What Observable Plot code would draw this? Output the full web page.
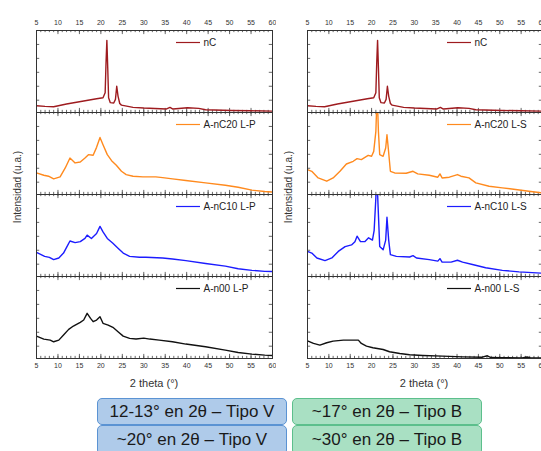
<!DOCTYPE html>
<html>
<head>
<meta charset="utf-8">
<script src="https://cdn.jsdelivr.net/npm/d3@7"></script>
<script src="https://cdn.jsdelivr.net/npm/@observablehq/plot@0.6"></script>
<style>
  body { margin: 0; background: #fff; font-family: "Liberation Sans", Arial, sans-serif; }
  #root { position: relative; width: 541px; height: 451px; overflow: hidden; background: #fff; }
  .col { position: absolute; top: 0; }
  .ylab { position: absolute; width: 120px; height: 12px; line-height: 12px; text-align: center;
          font-size: 10px; color: #333; transform: rotate(-90deg); white-space: nowrap; }
  .xlab { position: absolute; width: 120px; text-align: center; font-size: 11px; color: #333; line-height: 12px; }
  .box { position: absolute; box-sizing: border-box; border-radius: 5px; text-align: center;
         font-size: 17px; color: #1a1a1a; white-space: nowrap; }
  .blue { background: #afcbea; border: 1px solid #5b93d3; }
  .green { background: #a9e0c3; border: 1px solid #5cbf8c; }
</style>
</head>
<body>
<div id="root"></div>
<script>
// ---- data (2θ in degrees, intensity in a.u. scaled per sub-panel 0–100) ----
const nC_x = [5, 7, 9, 12, 16, 19, 20.5, 21.0, 21.2, 21.4, 21.6, 21.8, 22.2, 23.0, 23.4, 23.7, 24.0, 24.4, 24.8, 27.5, 30, 35.2, 36.1, 36.8, 40.2, 42.8, 44.4, 50.5, 55, 60];
const nC_y = [8.3, 7.5, 7, 10.4, 14, 16.7, 18, 24, 60, 88, 55, 18, 12, 11.5, 16, 32, 20, 11, 9, 6.3, 5.4, 4.2, 6.3, 4.2, 5.8, 5, 3.3, 2.5, 2.1, 1.7];

const nC20LP_x = [5, 6.7, 7.8, 9, 10.5, 11.7, 12.8, 14, 15.2, 16.3, 17.1, 18.2, 19, 19.8, 20.5, 21.5, 22.5, 23.6, 24.8, 25.9, 27.5, 29.8, 32.8, 34.4, 36.7, 39.8, 44.4, 49, 52, 55.2, 58.2, 60];
const nC20LP_y = [26.3, 23.5, 22.3, 19, 21.5, 32.4, 44.5, 38.5, 39.7, 44.5, 48.6, 47.8, 57.5, 69.6, 60.7, 48.6, 41.3, 35.6, 28.3, 24.3, 22.3, 21.5, 21.5, 20.6, 19, 17, 14.2, 11.3, 8.9, 5.3, 3.6, 3.0];

const nC10LP_x = [5, 6.9, 8, 9, 10.2, 11.3, 12.1, 12.8, 14, 15.2, 16.3, 16.8, 17.8, 19, 19.8, 20.5, 21.5, 22.8, 24, 25.2, 26.7, 29, 30.5, 34.4, 36.7, 39.8, 44.4, 49, 52, 55.2, 58.2, 60];
const nC10LP_y = [29.4, 24.6, 23.4, 20.6, 22.6, 28.6, 36.5, 43.3, 41.3, 42.5, 46.4, 50.4, 46.4, 52.4, 61.1, 54.4, 46.4, 40.5, 34.5, 28.6, 24.6, 23.4, 23.4, 22.6, 21.4, 19.4, 15.9, 12.7, 9.5, 7.5, 6.3, 6];

const n00LP_x = [5, 6.7, 8.2, 9, 10.2, 11.3, 12.5, 13.6, 15.2, 16, 16.8, 17.6, 18.2, 19, 19.8, 20.5, 21.7, 22.8, 24, 25.2, 26.7, 28.2, 30, 31.4, 33.6, 36.7, 39.8, 44.4, 49, 52, 55.2, 58.2, 60];
const n00LP_y = [27.3, 23.7, 22.4, 20.4, 22.4, 28.6, 35.5, 39.6, 44.1, 46.9, 55.1, 49, 44.9, 46.9, 51, 42.9, 40.8, 38, 32.7, 27.3, 24.5, 23.7, 24.9, 23.7, 22.4, 20.4, 17.6, 14.3, 10.2, 7.3, 5.3, 4.1, 3.7];

const nC20LS_x = [5, 6, 7.5, 9.5, 11, 12.6, 14.1, 15.7, 16.6, 17.6, 19.2, 20, 20.5, 21.0, 21.3, 21.6, 21.9, 22.7, 23.3, 23.6, 23.9, 24.4, 25.4, 28.1, 29.7, 30.8, 33.5, 35.5, 36, 36.5, 38.2, 40.1, 40.9, 42.8, 44.4, 47.5, 50.6, 53.7, 56.8, 60];
const nC20LS_y = [30.4, 28.3, 20.2, 16.2, 20.2, 28.3, 37.2, 40.5, 43.7, 42.5, 47.8, 46.6, 52.6, 76.9, 125, 76.9, 48.6, 46.6, 56.7, 72.9, 56.7, 28.3, 26.3, 25.9, 28.3, 25.1, 23.5, 21.1, 25.1, 20.2, 21.1, 24.3, 22.3, 20.2, 14.2, 10.1, 8.1, 6.1, 4, 2];

const nC10LS_x = [5, 6, 7.2, 9.1, 10.7, 12.2, 13.8, 15.3, 16.1, 16.6, 17.4, 18.4, 19.3, 20.2, 20.6, 21.0, 21.2, 21.5, 21.9, 22.7, 23.3, 23.6, 24.0, 24.4, 25.8, 28.9, 29.7, 30.5, 33.5, 35.5, 36, 36.5, 38.6, 40.1, 41.3, 43.6, 46.7, 50.6, 54.5, 60];
const nC10LS_y = [30.6, 28.6, 22.6, 19.4, 22.6, 30.6, 36.5, 38.5, 42.5, 49.2, 42.5, 42.5, 47.2, 44.4, 56.3, 96, 130, 88.1, 36.5, 32.5, 44.4, 72.2, 44.4, 26.6, 24.6, 23.8, 25.4, 22.6, 20.6, 18.7, 21.8, 17.5, 17.5, 19.8, 17.5, 14.7, 10.7, 7.5, 5.6, 4];

const n00LS_x = [5, 6.4, 7.9, 9.5, 11, 13.4, 15.7, 16.9, 17.6, 18.8, 20.3, 22.7, 24.2, 26.6, 28.9, 32, 36.6, 41.3, 45.9, 47.1, 47.9, 50.6, 55.2, 56.4, 57.2, 60];
const n00LS_y = [21.6, 18.4, 16.3, 19.2, 21.2, 22.4, 22.4, 22.4, 18.4, 15.1, 13.1, 11, 8.2, 6.1, 4.5, 3.7, 2.9, 2, 1.6, 3.3, 1.2, 1.0, 0.8, 1.8, 0.8, 0.6];

const leftSeries = ["nC", "A-nC20 L-P", "A-nC10 L-P", "A-n00 L-P"];
const rightSeries = ["nC", "A-nC20 L-S", "A-nC10 L-S", "A-n00 L-S"];
const seriesNames = ["nC", "A-nC20 L-P", "A-nC10 L-P", "A-n00 L-P", "A-nC20 L-S", "A-nC10 L-S", "A-n00 L-S"];
const seriesColors = ["#9e1b1f", "#ff8a1e", "#1c1cff", "#111111", "#ff8a1e", "#1c1cff", "#111111"];

const xTickLabels = [5, 10, 15, 20, 25, 30, 35, 40, 45, 50, 55, 60];
const xMinorTicks = d3.range(5, 61, 1);
const yInnerTicks = [15, 32, 49, 66, 83];

const xTitle = "2 theta (°)";
const yTitle = "Intensidad (u.a.)";
const boxLabels = ["12-13° en 2θ – Tipo V", "~17° en 2θ – Tipo B", "~20° en 2θ – Tipo V", "~30° en 2θ – Tipo B"];

// ---- build tables ----
const rows = (s, xs, ys) => xs.map((x, i) => ({s, x, y: ys[i]}));
const leftData = [
  ...rows("nC", nC_x, nC_y),
  ...rows("A-nC20 L-P", nC20LP_x, nC20LP_y),
  ...rows("A-nC10 L-P", nC10LP_x, nC10LP_y),
  ...rows("A-n00 L-P", n00LP_x, n00LP_y)
];
const rightData = [
  ...rows("nC", nC_x, nC_y),
  ...rows("A-nC20 L-S", nC20LS_x, nC20LS_y),
  ...rows("A-nC10 L-S", nC10LS_x, nC10LS_y),
  ...rows("A-n00 L-S", n00LS_x, n00LS_y)
];

function column(data, order, marginLeft, frameW) {
  const legend = order.map(s => ({s}));
  const tickStroke = "#444";
  return Plot.plot({
    width: marginLeft + frameW + 4,
    height: 378,
    marginLeft, marginRight: 4, marginTop: 30, marginBottom: 20,
    x: {domain: [5, 60]},
    y: {domain: [0, 100], axis: null},
    fy: {domain: order, padding: 0, axis: null},
    color: {domain: seriesNames, range: seriesColors},
    style: {fontFamily: "'Liberation Sans', Arial, sans-serif", fontSize: "7px", color: "#333", background: "transparent"},
    marks: [
      Plot.ruleX(xMinorTicks, {x: d => d, y1: 0, y2: 2.6, stroke: tickStroke, strokeWidth: 0.8}),
      Plot.ruleX(xMinorTicks, {x: d => d, y1: 97.4, y2: 100, stroke: tickStroke, strokeWidth: 0.8}),
      Plot.ruleX(xTickLabels, {x: d => d, y1: 0, y2: 5, stroke: tickStroke, strokeWidth: 0.8}),
      Plot.ruleX(xTickLabels, {x: d => d, y1: 95, y2: 100, stroke: tickStroke, strokeWidth: 0.8}),
      Plot.ruleY(yInnerTicks, {y: d => d, x1: 5, x2: 5.75, stroke: tickStroke, strokeWidth: 0.8}),
      Plot.ruleY(yInnerTicks, {y: d => d, x1: 59.25, x2: 60, stroke: tickStroke, strokeWidth: 0.8}),
      Plot.line(data, {x: "x", y: "y", fy: "s", stroke: "s", strokeWidth: 1.4, clip: true}),
      Plot.ruleY(legend, {fy: "s", y: 100, dy: 12, insetLeft: 140, insetRight: frameW - 164, stroke: "s", strokeWidth: 1.2}),
      Plot.text(legend, {fy: "s", text: "s", frameAnchor: "top-left", dx: 167, dy: 12, textAnchor: "start", lineAnchor: "middle", fontSize: 10, fill: "#222"}),
      Plot.frame({stroke: "#333", strokeWidth: 1}),
      Plot.axisX({anchor: "top", ticks: xTickLabels, tickSize: 0, tickPadding: 6, label: null}),
      Plot.axisX({anchor: "bottom", ticks: xTickLabels, tickSize: 0, tickPadding: 5, label: null})
    ]
  });
}

const root = document.getElementById("root");

const left = column(leftData, leftSeries, 36, 236);
left.classList.add("col");
left.style.left = "0px";
root.appendChild(left);

const right = column(rightData, rightSeries, 31, 235);
right.classList.add("col");
right.style.left = "276px";
root.appendChild(right);

function addDiv(cls, text, css) {
  const d = document.createElement("div");
  d.className = cls;
  d.textContent = text;
  Object.assign(d.style, css);
  root.appendChild(d);
  return d;
}
// axis titles
addDiv("ylab", yTitle, {left: (18 - 60) + "px", top: (187 - 6) + "px"});
addDiv("ylab", yTitle, {left: (289 - 60) + "px", top: (187 - 6) + "px"});
addDiv("xlab", xTitle, {left: (154 - 60) + "px", top: (383 - 6) + "px"});
addDiv("xlab", xTitle, {left: (424 - 60) + "px", top: (383 - 6) + "px"});

// boxes
addDiv("box blue", boxLabels[0], {left: "97px", top: "398px", width: "190px", height: "27px", lineHeight: "25px"});
addDiv("box green", boxLabels[1], {left: "292px", top: "398px", width: "190px", height: "27px", lineHeight: "25px"});
addDiv("box blue", boxLabels[2], {left: "97px", top: "425px", width: "190px", height: "30px", lineHeight: "28px"});
addDiv("box green", boxLabels[3], {left: "292px", top: "425px", width: "190px", height: "30px", lineHeight: "28px"});
</script>
</body>
</html>
